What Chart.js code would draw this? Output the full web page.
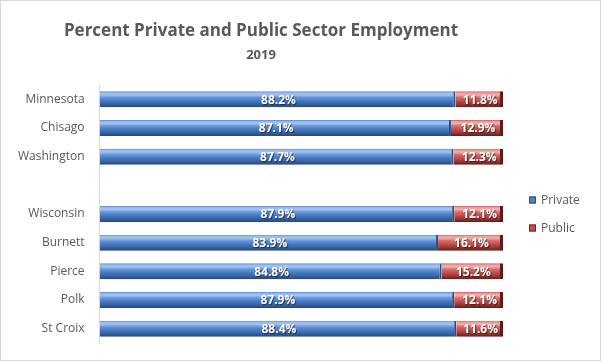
<!DOCTYPE html>
<html>
<head>
<meta charset="utf-8">
<script src="https://cdn.jsdelivr.net/npm/chart.js@4/dist/chart.umd.min.js"></script>
<style>
  html, body { margin: 0; padding: 0; background: #fff; }
  #wrap { width: 601px; height: 361px; position: relative; }
</style>
</head>
<body>
<div id="wrap"><canvas id="grafico"></canvas></div>
<script>
// dados
const categorias = ['Minnesota', 'Chisago', 'Washington', '', 'Wisconsin', 'Burnett', 'Pierce', 'Polk', 'St Croix'];
const privado = [88.2, 87.1, 87.7, null, 87.9, 83.9, 84.8, 87.9, 88.4];
const publico = [11.8, 12.9, 12.3, null, 12.1, 16.1, 15.2, 12.1, 11.6];
const series = ['Private', 'Public'];
const titulo = 'Percent Private and Public Sector Employment';
const subtitulo = '2019';

const fonte = '"Open Sans", "Liberation Sans", sans-serif';
const cinza = '#595959';
const larguraBarra = 0.56;

const stopsAzul = [[0, '#5586cc'], [0.1, '#9bbbea'], [0.22, '#a3c2ee'], [0.38, '#6696dc'], [0.6, '#4678bf'], [0.8, '#3863a1'], [1, '#264676']];
const stopsVermelho = [[0, '#c25a56'], [0.1, '#eba19e'], [0.22, '#f0aeab'], [0.38, '#d66c68'], [0.6, '#bd4e4b'], [0.8, '#973835'], [1, '#5e1d1b']];
const coresLegenda = [['#4f81bd', '#2a4c7c'], ['#c0504d', '#6a2321']];

function gradiente(ctx, stops, topo, altura) {
    const g = ctx.createLinearGradient(0, topo, 0, topo + altura);
    stops.forEach(s => g.addColorStop(s[0], s[1]));
    return g;
}

const moldura = {
    id: 'moldura',
    beforeDraw(chart) {
        const ctx = chart.ctx;
        ctx.save();
        ctx.fillStyle = '#fff';
        ctx.fillRect(0, 0, chart.width, chart.height);
        ctx.strokeStyle = '#d9d9d9';
        ctx.lineWidth = 1;
        ctx.strokeRect(0.5, 0.5, chart.width - 1, chart.height - 1);
        ctx.restore();
    }
};

// aplica o efeito cilindro usando a posição real de cada barra
const cilindro = {
    id: 'cilindro',
    beforeDatasetsDraw(chart) {
        const todos = [stopsAzul, stopsVermelho];
        chart.data.datasets.forEach((ds, i) => {
            chart.getDatasetMeta(i).data.forEach(bar => {
                const p = bar.getProps(['y', 'height'], true);
                if (!Number.isFinite(p.y) || !Number.isFinite(p.height) || p.height <= 0) return;
                bar.options.backgroundColor = gradiente(chart.ctx, todos[i], p.y - p.height / 2, p.height);
            });
        });
    }
};

const rotulos = {
    id: 'rotulos',
    afterDatasetsDraw(chart) {
        const ctx = chart.ctx;
        ctx.save();
        ctx.font = 'bold 12px ' + fonte;
        ctx.fillStyle = '#fff';
        ctx.textAlign = 'center';
        ctx.textBaseline = 'middle';
        ctx.shadowColor = 'rgba(0,0,0,0.55)';
        ctx.shadowOffsetX = 1;
        ctx.shadowOffsetY = 1;
        ctx.shadowBlur = 1;
        chart.data.datasets.forEach((ds, i) => {
            chart.getDatasetMeta(i).data.forEach((bar, j) => {
                const v = ds.data[j];
                if (v == null) return;
                const p = bar.getProps(['x', 'y', 'base'], true);
                ctx.fillText(v.toFixed(1) + '%', (p.x + p.base) / 2 + 1, p.y + 1);
            });
        });
        ctx.restore();
    }
};

// legenda à direita, centrada na área do gráfico
const legenda = {
    id: 'legenda',
    afterDraw(chart) {
        const ctx = chart.ctx;
        const area = chart.chartArea;
        const meio = (area.top + area.bottom) / 2;
        const x = chart.width - 72;
        ctx.save();
        ctx.font = '12px ' + fonte;
        ctx.textBaseline = 'middle';
        ctx.textAlign = 'left';
        series.forEach((nome, i) => {
            const cy = meio - 14 + i * 28;
            ctx.fillStyle = coresLegenda[i][0];
            ctx.fillRect(x, cy - 3.5, 7, 7);
            ctx.strokeStyle = coresLegenda[i][1];
            ctx.lineWidth = 1;
            ctx.strokeRect(x + 0.5, cy - 3, 6, 6);
            ctx.fillStyle = cinza;
            ctx.fillText(nome, x + 12, cy + 1);
        });
        ctx.restore();
    }
};

const ctx = document.getElementById('grafico').getContext('2d');
const meuGrafico = new Chart(ctx, {
    type: 'bar',
    data: {
        labels: categorias,
        datasets: [
            {
                label: series[0],
                data: privado,
                // função => opções não partilhadas, o plugin troca pelo gradiente
                backgroundColor: () => '#4f80c8',
                borderColor: '#2a4c7c',
                borderWidth: { top: 0, bottom: 0, left: 0, right: 2 },
                borderSkipped: false,
                categoryPercentage: larguraBarra,
                barPercentage: 1
            },
            {
                label: series[1],
                data: publico,
                backgroundColor: () => '#c0504d',
                borderColor: '#5e1b19',
                borderWidth: { top: 0, bottom: 0, left: 0, right: 3 },
                borderSkipped: false,
                categoryPercentage: larguraBarra,
                barPercentage: 1
            }
        ]
    },
    options: {
        indexAxis: 'y',
        responsive: true,
        maintainAspectRatio: false,
        animation: false,
        layout: { padding: { top: 17, bottom: 18, left: 11, right: 90 } },
        plugins: {
            title: {
                display: true,
                text: titulo,
                color: cinza,
                font: { family: fonte, size: 17, weight: 'bold' },
                padding: { top: 4, bottom: 4 }
            },
            subtitle: {
                display: true,
                text: subtitulo,
                color: cinza,
                font: { family: fonte, size: 13, weight: 'bold' },
                padding: { top: 2, bottom: 22 }
            },
            legend: { display: false },
            tooltip: { enabled: false }
        },
        scales: {
            x: {
                stacked: true,
                min: 0,
                max: 100,
                display: false
            },
            y: {
                stacked: true,
                grid: { display: false },
                border: { display: true, color: '#d9d9d9' },
                ticks: { color: cinza, font: { family: fonte, size: 12 }, padding: 7 }
            },
            // eixo vazio só para reservar espaço à direita das barras
            y2: {
                type: 'category',
                position: 'right',
                grid: { display: false },
                border: { display: false },
                ticks: { display: false },
                afterFit: (s) => { s.width = 8; }
            }
        }
    },
    plugins: [moldura, cilindro, rotulos, legenda]
});
</script>
</body>
</html>
